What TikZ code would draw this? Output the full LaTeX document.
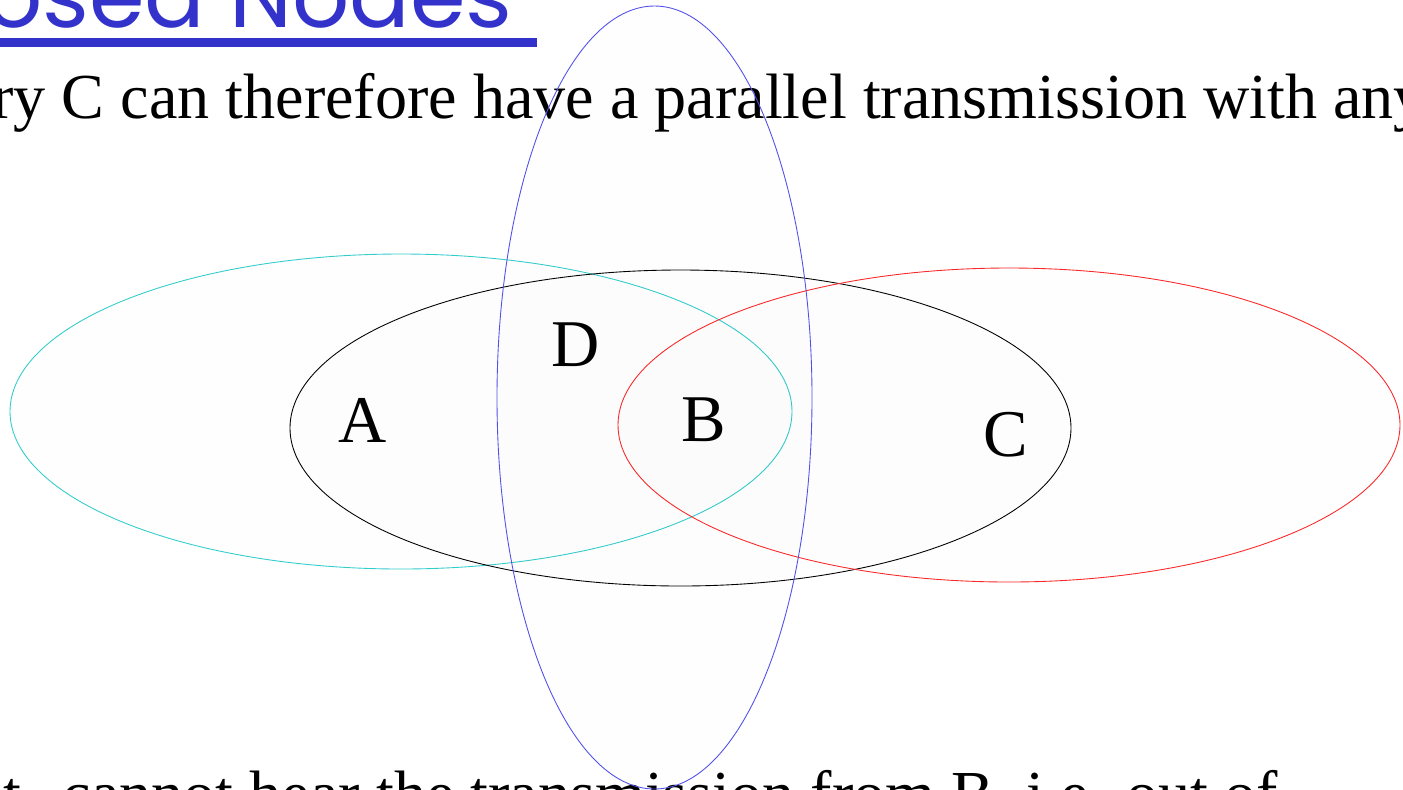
\documentclass[tikz,border=0pt]{standalone}
\usepackage{fontspec}
\setmainfont{Liberation Serif}
\newfontfamily\titlefont{Poppins}
\usetikzlibrary{positioning}
\definecolor{titleblue}{RGB}{51,51,204}
\definecolor{rangecyan}{RGB}{51,204,204}
\definecolor{rangered}{RGB}{250,40,40}
\definecolor{rangeblue}{RGB}{80,80,235}

\begin{document}
\begin{tikzpicture}[x=0.02cm, y=-0.02cm,
  rangeline/.style={line width=0.5pt, fill=black, fill opacity=0.004},
  station/.style={font=\fontsize{38}{40}\selectfont, inner sep=0pt},
  body/.style={font=\fontsize{36.5}{40}\selectfont, inner sep=0pt, anchor=base west},
  heading/.style={font=\titlefont\fontsize{51}{60}\selectfont, text=titleblue,
    inner sep=0pt, anchor=base east}
]
\useasboundingbox (0,0) rectangle (1403,789);
\clip (0,0) rectangle (1403,789);

% title and text lines
\node[heading] (title) at (513,27) {osed Nodes};
\fill[titleblue] (0,38) rectangle (537,47);
\node[body] (line1) at (-8,118) {ry C can therefore have a parallel transmission with any};
\node[body] (line2) at (3,815) {t\hspace{0.4em} cannot hear the transmission from B, i.e. out of};

% transmission ranges
\draw[rangeline, draw=rangecyan] (401,411.5) ellipse [x radius=391, y radius=157.5];
\draw[rangeline, draw=black] (680.5,428) ellipse [x radius=390.5, y radius=158];
\draw[rangeline, draw=rangered] (1009,425) ellipse [x radius=391, y radius=157];
\draw[rangeline, draw=rangeblue] (654.5,397.5) ellipse [x radius=157.5, y radius=391.5];

% stations
\node[station] (a) at (363,420) {A};
\node[station] (d) at (576,345) {D};
\node[station] (b) at (704,420) {B};
\node[station] (c) at (1006,435) {C};
\end{tikzpicture}
\end{document}
